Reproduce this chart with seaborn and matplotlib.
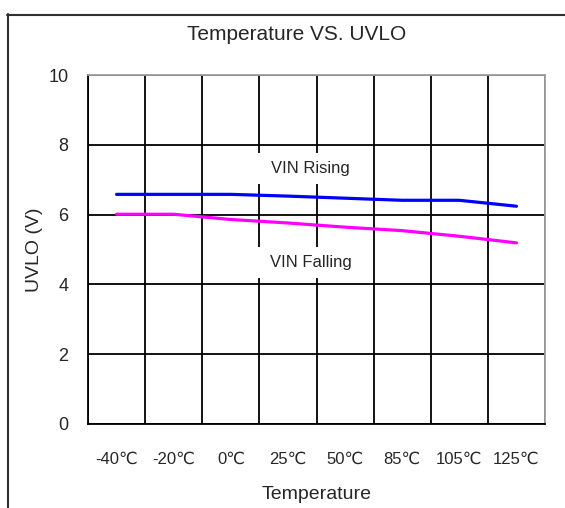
import numpy as np
import pandas as pd
import matplotlib
matplotlib.use('Agg')
import matplotlib.pyplot as plt
from matplotlib.lines import Line2D
import seaborn as sns

# values
temps = ['-40℃', '-20℃', '0℃', '25℃', '50℃', '85℃', '105℃', '125℃']
vin_rising = [6.58, 6.58, 6.58, 6.53, 6.47, 6.41, 6.41, 6.24]
vin_falling = [6.01, 6.01, 5.86, 5.76, 5.64, 5.54, 5.38, 5.19]
y_ticks = [0, 2, 4, 6, 8, 10]

sns.set_style('white')
plt.rcParams['font.family'] = ['Liberation Sans', 'DejaVu Sans']

pos = np.arange(len(temps))
df = pd.concat([
    pd.DataFrame({'pos': pos, 'uvlo': vin_rising, 'series': 'VIN Rising'}),
    pd.DataFrame({'pos': pos, 'uvlo': vin_falling, 'series': 'VIN Falling'}),
])

fig = plt.figure(figsize=(5.65, 5.08), dpi=100)
ax = fig.add_axes([88 / 565, 1 - 424 / 508, 457 / 565, 349 / 508])

sns.lineplot(data=df, x='pos', y='uvlo', hue='series',
             palette={'VIN Rising': '#0000ff', 'VIN Falling': '#ff00ff'},
             linewidth=2.3, legend=False, ax=ax, zorder=3)

ax.set_xlim(-0.5, len(temps) - 0.5)
ax.set_ylim(0, 10)
ax.set_xticks(pos)
ax.set_xticklabels(temps, fontsize=12)
ax.set_xticks(np.arange(-0.5, len(temps)), minor=True)
ax.set_yticks(y_ticks)
ax.set_yticklabels([str(v) for v in y_ticks], fontsize=13)
ax.tick_params(which='both', length=0)
ax.tick_params(axis='x', pad=20)
ax.tick_params(axis='y', pad=14)

ax.set_axisbelow(True)
ax.grid(False)
ax.grid(which='minor', axis='x', color='black', linewidth=1.3)
ax.grid(which='major', axis='y', color='black', linewidth=1.3)

for side in ['left', 'bottom']:
    ax.spines[side].set_color('black')
    ax.spines[side].set_linewidth(1.3)
for side in ['top', 'right']:
    ax.spines[side].set_color('#a0a0a0')
    ax.spines[side].set_linewidth(1.3)

ax.set_xlabel('Temperature', fontsize=14, labelpad=14)
ax.set_ylabel('UVLO (V)', fontsize=14, labelpad=4)

box = dict(boxstyle='square,pad=0.8', facecolor='white', edgecolor='none',
           mutation_aspect=0.6)
ax.text(3.4, 7.32, 'VIN Rising', fontsize=12, ha='center', va='center',
        bbox=box, zorder=2.2)
ax.text(3.4, 4.62, 'VIN Falling', fontsize=12, ha='center', va='center',
        bbox=box, zorder=2.2)

fig.text(297 / 565, 1 - 35 / 508, 'Temperature VS. UVLO', fontsize=15,
         ha='center', va='center')

# outer frame, open to the right and bottom like the reference crop
fig.add_artist(Line2D([7.5 / 565, 7.5 / 565], [1 - 14 / 508, -0.05],
                      transform=fig.transFigure, color='#303030', linewidth=1.5))
fig.add_artist(Line2D([7 / 565, 1.05], [1 - 14.5 / 508, 1 - 14.5 / 508],
                      transform=fig.transFigure, color='#303030', linewidth=1.5))

fig.savefig('out.png', dpi=100)
